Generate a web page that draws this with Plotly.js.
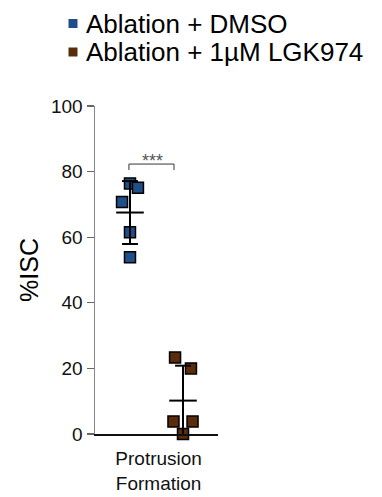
<!DOCTYPE html>
<html>
<head>
<meta charset="utf-8">
<script src="https://cdn.plot.ly/plotly-3.0.1.min.js"></script>
<style>html,body{margin:0;padding:0;background:#fff;}#chart{width:382px;height:497px;}</style>
</head>
<body>
<div id="chart"></div>
<script>
// ---- data ----
const groups = ["Ablation + DMSO", "Ablation + 1\u00b5M LGK974"];
const groupColors = ["#1F4E89", "#5B2C0A"];
const category = "Protrusion<br>Formation";
const dmsoValues = [76.4, 75.1, 70.7, 61.5, 53.9];
const lgkValues = [23.3, 20.0, 3.8, 3.8, 0.0];
// horizontal scatter offsets of the points (beeswarm spread)
const dmsoJitter = [0, 0.15, -0.15, 0, 0];
const lgkJitter = [-0.15, 0.15, -0.18, 0.18, 0];
const significance = "***";

// ---- helpers ----
function mean(a){return a.reduce((s,v)=>s+v,0)/a.length;}
function sd(a){const m=mean(a);return Math.sqrt(a.reduce((s,v)=>s+(v-m)*(v-m),0)/(a.length-1));}

const W=382,H=497,L=95,R=164,T=106,B=63;
const plotW=W-L-R, plotH=H-T-B;
const px2paperX = px => (px-L)/plotW;
const px2paperY = py => (H-B-py)/plotH;

const series=[dmsoValues,lgkValues];
const jitters=[dmsoJitter,lgkJitter];
const traces=series.map((vals,i)=>({
  type:'scatter', mode:'markers',
  x: vals.map((v,j)=>i+1+jitters[i][j]),
  y: vals,
  name: groups[i],
  showlegend:false,
  cliponaxis:false,
  marker:{symbol:'square', size:11, color:groupColors[i], line:{color:'#000', width:1.5}}
}));

const shapes=[];
series.forEach((vals,i)=>{
  const c=i+1, m=mean(vals), s=sd(vals);
  const lo=Math.max(0,m-s), hi=m+s;
  const ln={color:'#000',width:2};
  shapes.push({type:'line',xref:'x',yref:'y',x0:c-0.26,x1:c+0.26,y0:m,y1:m,line:ln});
  shapes.push({type:'line',xref:'x',yref:'y',x0:c,x1:c,y0:lo,y1:hi,line:ln});
  shapes.push({type:'line',xref:'x',yref:'y',x0:c-0.15,x1:c+0.15,y0:hi,y1:hi,line:ln});
  if(m-s>0) shapes.push({type:'line',xref:'x',yref:'y',x0:c-0.15,x1:c+0.15,y0:lo,y1:lo,line:ln});
});
// significance bracket
shapes.push({type:'path',xref:'x',yref:'y',path:'M 0.98,80.5 L 0.98,82.3 L 1.83,82.3 L 1.83,80.5',line:{color:'#333',width:1}});

// legend keys
const legendY=[23.5,52];
const annotations=[];
groups.forEach((g,i)=>{
  shapes.push({type:'rect',xref:'paper',yref:'paper',
    x0:px2paperX(68.5),x1:px2paperX(77.5),
    y0:px2paperY(legendY[i]+4.5),y1:px2paperY(legendY[i]-4.5),
    fillcolor:groupColors[i],line:{width:0}});
  annotations.push({xref:'paper',yref:'paper',x:px2paperX(84),y:px2paperY(legendY[i]),
    xanchor:'left',yanchor:'middle',showarrow:false,text:g,
    font:{family:'Liberation Sans, Arial, sans-serif',size:26,color:'#000'}});
});
annotations.push({xref:'x',yref:'y',x:1.42,y:83.2,text:significance,showarrow:false,
  xanchor:'center',yanchor:'middle',font:{family:'Liberation Sans, Arial, sans-serif',size:18,color:'#555'}});

const layout={
  width:W,height:H,
  margin:{l:L,r:R,t:T,b:B,pad:0},
  paper_bgcolor:'#fff',plot_bgcolor:'#fff',
  showlegend:false,
  font:{family:'Liberation Sans, Arial, sans-serif',color:'#000'},
  xaxis:{range:[0.34,2.66],showgrid:false,zeroline:false,showline:true,linecolor:'#111',linewidth:1.5,
    tickvals:[1.54],ticktext:[category],ticks:'',ticklabelstandoff:7,tickfont:{size:19,color:'#111'},fixedrange:true},
  yaxis:{range:[0,100],dtick:20,showgrid:false,zeroline:false,showline:true,linecolor:'#888',linewidth:1.5,
    ticks:'outside',ticklen:7,tickcolor:'#666',tickwidth:1.2,tickfont:{size:19,color:'#111'},
    title:{text:'%ISC',font:{size:25,color:'#000'},standoff:5},fixedrange:true},
  shapes:shapes,
  annotations:annotations
};
Plotly.newPlot('chart',traces,layout,{staticPlot:true});
</script>
</body>
</html>
